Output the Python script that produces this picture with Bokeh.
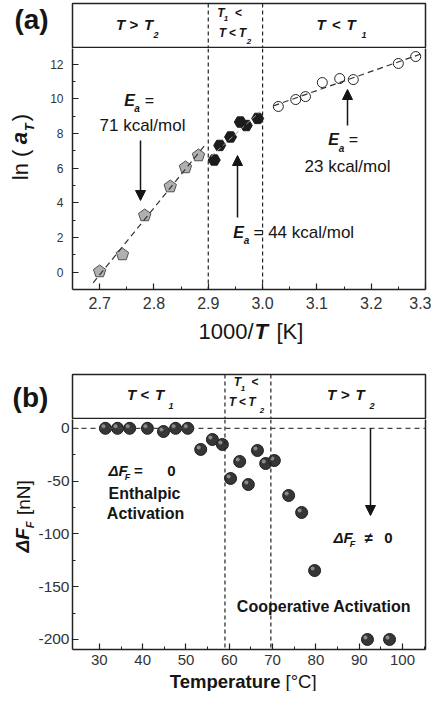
import numpy as np
from bokeh.plotting import figure
from bokeh.models import (Label, Span, Arrow, NormalHead, FixedTicker, ColumnDataSource,
                          Range1d, NumeralTickFormatter, LinearAxis)
from bokeh.layouts import column, row
from bokeh.transform import dodge
from bokeh.embed import file_html
from bokeh.resources import INLINE

# ---------------- data: panel (a) ----------------
x_high = [2.700, 2.742, 2.783, 2.830, 2.858, 2.882]      # T > T2, pentagons
ln_high = [0.04, 1.02, 3.27, 4.94, 6.04, 6.73]
x_mid = [2.911, 2.921, 2.941, 2.959, 2.970, 2.991]       # T1 < T < T2, hexagons
ln_mid = [6.47, 7.31, 7.80, 8.66, 8.46, 8.87]
x_low = [3.029, 3.061, 3.079, 3.110, 3.142, 3.167, 3.250, 3.282]  # T < T1, circles
ln_low = [9.56, 9.96, 10.13, 10.94, 11.17, 11.11, 12.04, 12.44]
a_bounds = [2.9, 3.0]
a_xticks = [2.7, 2.8, 2.9, 3.0, 3.1, 3.2, 3.3]
a_yticks = [0, 2, 4, 6, 8, 10, 12]

# ---------------- data: panel (b) ----------------
temp_b = [31.4, 34.2, 37.0, 41.1, 44.8, 47.6, 50.4, 53.4, 56.1, 58.4, 60.3, 62.4,
          64.4, 66.5, 68.4, 70.4, 73.7, 76.7, 79.7, 91.9, 97.0]
dF_b = [0, 0, 0, 0, -3, 0, 0, -20, -10.6, -15.3, -47.5, -31.4,
        -53.2, -21, -33.3, -30.5, -63.6, -79.7, -134.7, -200, -200]
b_bounds = [59.0, 69.6]
b_xticks = [30, 40, 50, 60, 70, 80, 90, 100]
b_yticks = [-200, -150, -100, -50, 0]

FONT = "Liberation Sans"
INK = "#151515"
W = 431


def mapper(p0, p1, d0, d1):
    return lambda p: d0 + (p - p0) * (d1 - d0) / (p1 - p0)


ident = lambda v: v


def base_fig(w, h, xr, yr, left=0, right=0, top=0, bottom=0, axes=False):
    kw = {}
    if not axes:
        kw = dict(x_axis_location=None, y_axis_location=None)
    p = figure(width=w, height=h, x_range=xr, y_range=yr, output_backend="svg",
               toolbar_location=None, min_border_left=left, min_border_right=right,
               min_border_top=top, min_border_bottom=bottom, **kw)
    p.grid.visible = False
    p.outline_line_color = None
    p.background_fill_color = "white"
    p.border_fill_color = "white"
    return p


def aux(w, h, x0, y0):
    # figure whose data coordinates are page pixels
    return base_fig(w, h, Range1d(x0, x0 + w), Range1d(y0 + h, y0))


def style_axes(p, xt, xminor, yt, yminor, xsize, ysize, xstand, ystand):
    p.xaxis.ticker = FixedTicker(ticks=xt, minor_ticks=xminor)
    p.yaxis.ticker = FixedTicker(ticks=yt, minor_ticks=yminor)
    for ax, size, st in ((p.xaxis, xsize, xstand), (p.yaxis, ysize, ystand)):
        ax.axis_line_color = "#222"
        ax.axis_line_width = 1.5
        ax.major_tick_in = 6
        ax.major_tick_out = 0
        ax.minor_tick_in = 3
        ax.minor_tick_out = 0
        ax.major_tick_line_color = "#222"
        ax.minor_tick_line_color = "#222"
        ax.major_tick_line_width = 1.2
        ax.major_label_text_font = FONT
        ax.major_label_text_font_size = size
        ax.major_label_text_color = "#333"
        ax.major_label_standoff = st
    # plain right-hand frame edge
    rax = LinearAxis(ticker=FixedTicker(ticks=[]), major_label_text_font_size="0px",
                     major_tick_in=0, major_tick_out=0, minor_tick_in=0, minor_tick_out=0,
                     axis_line_color="#222", axis_line_width=1.5)
    p.add_layout(rax, "right")


def put(p, X, Y, px, py, s, size, fstyle="normal", align="center", angle=0.0, color=INK):
    p.add_layout(Label(x=X(px), y=Y(py), text=s, text_font=FONT,
                       text_font_size=f"{size}px", text_font_style=fstyle,
                       text_align=align, text_baseline="middle", angle=angle,
                       text_color=color))


def arrow(p, X, Y, x0, y0, x1, y1):
    p.add_layout(Arrow(end=NormalHead(size=10, fill_color=INK, line_color=INK),
                       x_start=X(x0), y_start=Y(y0), x_end=X(x1), y_end=Y(y1),
                       line_width=1.5, line_color=INK))


def region_label(p, X, pieces, y, ysub, size, subsize):
    for xc, s, sub in pieces:
        if sub:
            put(p, X, ident, xc, ysub, s, subsize, "bold italic")
        elif s in "<>":
            put(p, X, ident, xc, y, s, size, "bold")
        else:
            put(p, X, ident, xc, y, s, size, "bold italic")


def header_fig(xr, h, y_bottom, y_top, top, bounds):
    p = base_fig(360, h, xr, Range1d(y_bottom, y_top), left=1, right=6, top=top, bottom=1)
    p.outline_line_color = "#222"
    p.outline_line_width = 1.5
    for b in bounds:
        p.add_layout(Span(location=b, dimension="height", line_color="#222",
                          line_dash="4 3", line_width=1.2))
    return p


# ======================= panel (a) =======================
XA = mapper(80, 433, 2.65, 3.30)
YA = mapper(297, 11, -1, 15.5)
xrA = Range1d(2.65, 3.30)

cornerA = aux(71, 48, 8, 8)
put(cornerA, ident, ident, 39, 25, "(a)", 28, "bold")

hdrA = header_fig(xrA, 48, 55, 11, 3, a_bounds)
region_label(hdrA, XA, [(128, "T", 0), (141.5, ">", 0), (156, "T", 0), (163.5, "2", 1)],
             32, 42, 15, 9)
region_label(hdrA, XA, [(228.5, "T", 0), (233.5, "1", 1), (246, "<", 0)], 20, 26, 12, 8)
region_label(hdrA, XA, [(230, "T", 0), (240, "<", 0), (250, "T", 0), (256.5, "2", 1)],
             40, 49, 12, 8)
region_label(hdrA, XA, [(328.5, "T", 0), (344, "<", 0), (358.5, "T", 0), (371.5, "1", 1)],
             32, 42, 15, 9)

ylabA = aux(42, 269, 8, 56)
put(ylabA, ident, ident, 28, 186, "ln (", 22, angle=np.pi / 2)
put(ylabA, ident, ident, 27, 156, "a", 22, "bold italic", angle=np.pi / 2)
put(ylabA, ident, ident, 37, 144, "T", 13, "bold italic", angle=np.pi / 2)
put(ylabA, ident, ident, 28, 133, ")", 22, angle=np.pi / 2)

p1 = base_fig(389, 269, xrA, Range1d(-1, YA(56)), left=30, right=6, top=0, bottom=28,
              axes=True)
style_axes(p1, a_xticks, [2.75, 2.85, 2.95, 3.05, 3.15, 3.25], a_yticks,
           [1, 3, 5, 7, 9, 11], "16px", "12px", 7, 9)
p1.xaxis.formatter = NumeralTickFormatter(format="0.0")
for b in a_bounds:
    p1.add_layout(Span(location=b, dimension="height", line_color="#222",
                       line_dash="4 3", line_width=1.2))

kx = 0.65 / 353
ky = 16.5 / 286
r = 6.5
ang = np.deg2rad(90 + 72 * np.arange(5))
pent_xs = [list(x + r * np.cos(ang) * kx) for x in x_high]
pent_ys = [list(y + r * np.sin(ang) * ky) for y in ln_high]
p1.patches(pent_xs, pent_ys, fill_color="#b0b0b0", line_color="#505050", line_width=1)
p1.scatter(x_mid, ln_mid, marker="hex", size=12, fill_color="#1c1c1c", line_color="#1c1c1c")
p1.scatter(x_low, ln_low, marker="circle", size=10, fill_alpha=0, line_color="#222",
           line_width=1)

c = np.polyfit(x_high, ln_high, 1)
xx = np.array([2.688, 2.895])
p1.line(xx, np.polyval(c, xx), line_color="#333", line_dash="6 4", line_width=1.2)
c = np.polyfit(x_mid, ln_mid, 1)
xx = np.array([2.905, 2.995])
p1.line(xx, np.polyval(c, xx), line_color="#9a9a9a", line_dash="5 3", line_width=1)
c = np.polyfit(x_low, ln_low, 1)
xx = np.array([3.02, 3.29])
p1.line(xx, np.polyval(c, xx), line_color="#333", line_dash="6 4", line_width=1.2)

put(p1, XA, YA, 137, 108, "E", 16, "bold italic")
put(p1, XA, YA, 144.5, 116, "a", 10, "bold italic")
put(p1, XA, YA, 157, 108, "=", 16)
put(p1, XA, YA, 150, 133, "71 kcal/mol", 17)
arrow(p1, XA, YA, 148, 148, 148, 208)
put(p1, XA, YA, 246, 240, "E", 16, "bold italic")
put(p1, XA, YA, 254, 248, "a", 10, "bold italic")
put(p1, XA, YA, 261, 240, "= 44 kcal/mol", 17, align="left")
arrow(p1, XA, YA, 245, 225, 245, 163)
put(p1, XA, YA, 341, 147, "E", 16, "bold italic")
put(p1, XA, YA, 349, 156, "a", 10, "bold italic")
put(p1, XA, YA, 361, 147, "=", 16)
put(p1, XA, YA, 355, 174, "23 kcal/mol", 17)
arrow(p1, XA, YA, 355, 133, 355, 97)

xlabA = aux(W, 35, 8, 325)
put(xlabA, ident, ident, 261, 339, "1000/", 22, align="right")
put(xlabA, ident, ident, 262, 339, "T", 22, "bold italic", align="left")
put(xlabA, ident, ident, 284, 339, "[K]", 22, align="left")

# ======================= panel (b) =======================
XB = mapper(80, 433, 23.8, 105.3)
YB = mapper(657, 382, -209.5, 51)
xrB = Range1d(23.8, 105.3)

cornerB = aux(71, 67, 8, 360)
put(cornerB, ident, ident, 38, 395, "(b)", 28, "bold")

hdrB = header_fig(xrB, 67, 426, 382, 22, b_bounds)
region_label(hdrB, XB, [(139, "T", 0), (152.5, "<", 0), (167, "T", 0), (178.5, "1", 1)],
             402, 413, 15, 9)
region_label(hdrB, XB, [(245, "T", 0), (250.5, "1", 1), (262.5, "<", 0)], 389, 396, 12, 8)
region_label(hdrB, XB, [(240, "T", 0), (250, "<", 0), (259.5, "T", 0), (269.5, "2", 1)],
             409, 418, 12, 8)
region_label(hdrB, XB, [(339, "T", 0), (353, ">", 0), (367.5, "T", 0), (379.5, "2", 1)],
             402, 413, 15, 9)

ylabB = aux(35, 253, 8, 427)
put(ylabB, ident, ident, 30, 560, "\u0394F", 19, "bold italic", angle=np.pi / 2)
put(ylabB, ident, ident, 37, 543, "F", 11, "bold italic", angle=np.pi / 2)
put(ylabB, ident, ident, 31, 513, "[nN]", 19, angle=np.pi / 2)

p2 = base_fig(396, 253, xrB, Range1d(-209.5, YB(427)), left=37, right=6, top=0, bottom=23,
              axes=True)
style_axes(p2, b_xticks, [35, 45, 55, 65, 75, 85, 95, 105], b_yticks,
           [-175, -125, -75, -25], "15px", "15.5px", 5, 3)
p2.yaxis[0].major_label_overrides = {t: str(t) for t in b_yticks}
for b in b_bounds:
    p2.add_layout(Span(location=b, dimension="height", line_color="#222",
                       line_dash="4 3", line_width=1.2))
p2.add_layout(Span(location=0, dimension="width", line_color="#444",
                   line_dash="5 4", line_width=1.2))

src = ColumnDataSource(dict(t=temp_b, f=dF_b))
p2.scatter("t", "f", source=src, size=12, fill_color="#363636", line_color="#1e1e1e",
           line_width=1)
p2.scatter(x=dodge("t", -2 * 81.5 / 353), y=dodge("f", 2 * 260.5 / 275), source=src,
           size=4, fill_color="#a0a0a0", fill_alpha=0.8, line_alpha=0)

put(p2, XB, YB, 125.5, 478, "\u0394F", 15, "bold italic")
put(p2, XB, YB, 135, 484, "F", 9, "bold italic")
put(p2, XB, YB, 146, 478, "=", 15, "bold")
put(p2, XB, YB, 179, 478, "0", 15, "bold")
put(p2, XB, YB, 152, 501, "Enthalpic", 16, "bold")
put(p2, XB, YB, 153, 521, "Activation", 16, "bold")
arrow(p2, XB, YB, 378, 436, 378, 523)
put(p2, XB, YB, 350.5, 545, "\u0394F", 15, "bold italic")
put(p2, XB, YB, 360, 551, "F", 9, "bold italic")
put(p2, XB, YB, 376, 545, "\u2260", 15, "bold")
put(p2, XB, YB, 396, 545, "0", 15, "bold")
put(p2, XB, YB, 331.5, 614, "Cooperative Activation", 16, "bold")

xlabB = aux(W, 19, 8, 680)
put(xlabB, ident, ident, 288, 689, "Temperature", 18.5, "bold", align="right")
put(xlabB, ident, ident, 293, 689, "[\u00b0C]", 18.5, align="left")

layout = column(
    row(cornerA, hdrA), row(ylabA, p1), xlabA,
    row(cornerB, hdrB), row(ylabB, p2), xlabB,
)
open("out.html", "w").write(file_html(layout, INLINE))
